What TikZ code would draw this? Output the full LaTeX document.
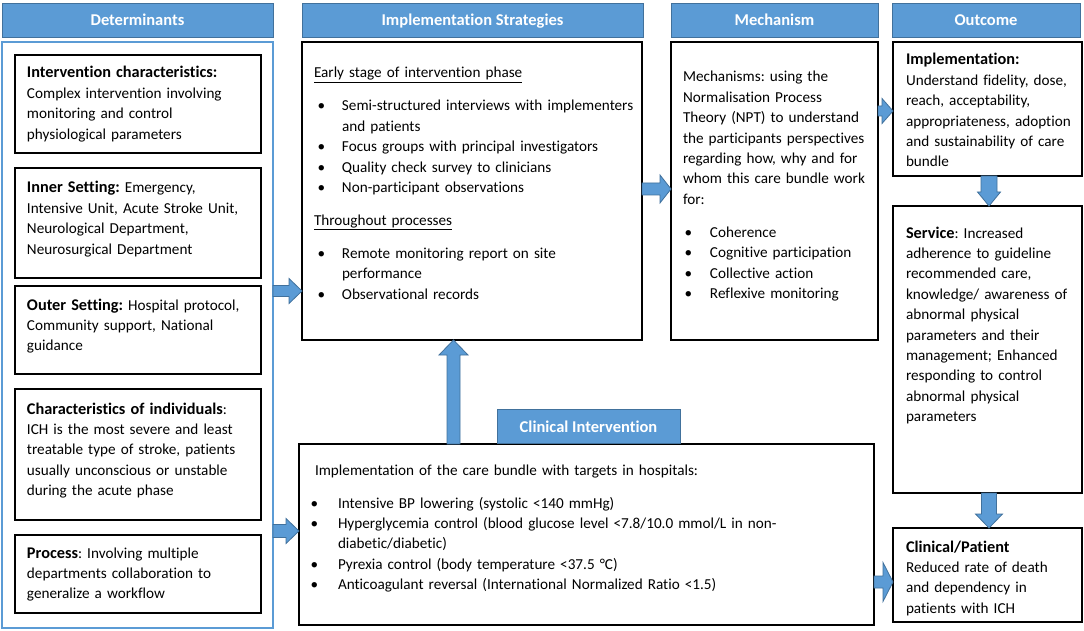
\documentclass[tikz,border=0pt]{standalone}
\usepackage{fontspec}
\setmainfont{Carlito}[Ligatures=NoCommon]
\usetikzlibrary{calc}
\definecolor{hblue}{HTML}{5B9BD5}
\definecolor{hborder}{HTML}{41719C}
\tikzset{
  hdr/.style={draw=hborder, fill=hblue, line width=0.8pt, text=white,
    font=\fontsize{16.5}{20}\selectfont\bfseries, inner sep=0pt, outer sep=0pt,
    text height=13.5pt, text depth=1.5pt},
  bbox/.style={draw=black, line width=1.5pt, inner sep=0pt, outer sep=0pt},
  lbbox/.style={draw=hblue, line width=1.5pt, inner sep=0pt, outer sep=0pt},
  txt/.style={anchor=base west, inner sep=0pt, outer sep=0pt, align=left,
    text width=#1, font=\fontsize{15.2}{20.4}\selectfont},
  txt/.default=420pt,
  barrow/.style={draw=hborder, fill=hblue, line width=0.8pt, line join=miter},
}
\newcommand\hb[1]{{\fontsize{16.3}{20.4}\selectfont\bfseries #1}}
\newcommand\bi[2]{\makebox[#1pt][l]{\hspace*{#2pt}\textbullet}}
% name, style, x1, y1, x2, y2, text
\newcommand\mkbox[7]{\node[#2, anchor=north west,
  minimum width={(#5-#3)*1pt}, minimum height={(#6-#4)*1pt}] (#1) at (#3,#4) {#7};}
% horizontal block arrow: start, end, shaft half, head half, head length
\newcommand\harr[5]{\draw[barrow] let \p1=#1, \p2=#2 in
  (\x1,{\y2+#3pt}) -- ({\x2-#5pt},{\y2+#3pt}) -- ({\x2-#5pt},{\y2+#4pt}) --
  (\x2,\y2) -- ({\x2-#5pt},{\y2-#4pt}) -- ({\x2-#5pt},{\y2-#3pt}) --
  (\x1,{\y2-#3pt}) -- cycle;}
% vertical block arrow: start, end, shaft half, head half, head length, dir (1 down, -1 up)
\newcommand\varr[6]{\draw[barrow] let \p1=#1, \p2=#2 in
  ({\x2-#3pt},\y1) -- ({\x2-#3pt},{\y2+(#6)*#5pt}) -- ({\x2-#4pt},{\y2+(#6)*#5pt}) --
  (\x2,\y2) -- ({\x2+#4pt},{\y2+(#6)*#5pt}) -- ({\x2+#3pt},{\y2+(#6)*#5pt}) --
  ({\x2+#3pt},\y1) -- cycle;}
\frenchspacing
\begin{document}
\frenchspacing
\begin{tikzpicture}[x=1pt, y=-1pt]
\useasboundingbox (0,0) rectangle (1084,631);
\fill[white] (0,0) rectangle (1084,631);

% headers
\mkbox{detH}{hdr}{2}{3}{273}{37}{Determinants}
\mkbox{impH}{hdr}{302}{3}{643}{37}{Implementation Strategies}
\mkbox{mecH}{hdr}{671}{3}{878}{37}{Mechanism}
\mkbox{outH}{hdr}{892}{3}{1080}{37}{Outcome}

% determinants
\mkbox{detB}{lbbox}{2}{42}{273}{628}{}
\mkbox{ic}{bbox}{15}{55}{261}{153}{}
\mkbox{is}{bbox}{15}{168}{261}{278}{}
\mkbox{os}{bbox}{15}{286}{261}{374}{}
\mkbox{ci}{bbox}{15}{389}{261}{520}{}
\mkbox{pr}{bbox}{15}{535}{261}{613}{}

\node[txt] (icT) at (27,78) {\hb{Intervention characteristics:}\\
Complex intervention involving\\ monitoring and control\\ physiological parameters};
\node[txt] (isT) at (27,193) {\hb{Inner Setting:} Emergency,\\
Intensive Unit, Acute Stroke Unit,\\ Neurological Department,\\ Neurosurgical Department};
\node[txt] (osT) at (27,310) {\hb{Outer Setting:} Hospital protocol,\\
Community support, National\\ guidance};
\node[txt] (ciT) at (27,414) {\hb{Characteristics of individuals}:\\
ICH is the most severe and least\\ treatable type of stroke, patients\\
usually unconscious or unstable\\ during the acute phase};
\node[txt] (prT) at (27,558) {\hb{Process}: Involving multiple\\
departments collaboration to\\ generalize a workflow};

% implementation strategies
\mkbox{impB}{bbox}{302}{42}{642}{340}{}
\node[txt] (impT) at (314,78) {\underline{Early stage of intervention phase}\\[12.6pt]
\bi{28}{3.5}Semi-structured interviews with implementers\\
\hspace*{28pt}and patients\\
\bi{28}{3.5}Focus groups with principal investigators\\
\bi{28}{3.5}Quality check survey to clinicians\\
\bi{28}{3.5}Non-participant observations\\[12.6pt]
\underline{Throughout processes}\\[12.6pt]
\bi{28}{3.5}Remote monitoring report on site\\
\hspace*{28pt}performance\\
\bi{28}{3.5}Observational records};

% mechanism
\mkbox{mecB}{bbox}{671}{42}{878}{340}{}
\node[txt] (mecT) at (683,82) {Mechanisms: using the\\ Normalisation Process\\
Theory (NPT) to understand\\ the participants perspectives\\
regarding how, why and for\\ whom this care bundle work\\ for:\\[12.6pt]
\bi{27}{1.5}Coherence\\
\bi{27}{1.5}Cognitive participation\\
\bi{27}{1.5}Collective action\\
\bi{27}{1.5}Reflexive monitoring};

% outcome
\mkbox{oimp}{bbox}{893}{42}{1082}{176}{}
\mkbox{serv}{bbox}{893}{206}{1082}{493}{}
\mkbox{clin}{bbox}{893}{528}{1082}{622}{}
\node[txt] (oimpT) at (906,65) {\hb{Implementation:}\\ Understand fidelity, dose,\\
reach, acceptability,\\ appropriateness, adoption\\ and sustainability of care\\ bundle};
\node[txt] (servT) at (906,238) {\hb{Service}: Increased\\ adherence to guideline\\
recommended care,\\ knowledge/ awareness of\\ abnormal physical\\ parameters and their\\
management; Enhanced\\ responding to control\\ abnormal physical\\ parameters};
\node[txt] (clinT) at (906,552) {\hb{Clinical/Patient}\\ Reduced rate of death\\
and dependency in\\ patients with ICH};

% clinical intervention
\mkbox{ciB}{bbox}{299}{444}{874}{625}{}
\mkbox{ciH}{hdr}{497}{409}{680}{443}{Clinical Intervention}
\node[txt=560pt] (ciBT) at (310.5,475) {\hspace*{4.5pt}Implementation of the care bundle with targets in hospitals:\\[12.6pt]
\bi{27.5}{0}Intensive BP lowering (systolic <140 mmHg)\\
\bi{27.5}{0}Hyperglycemia control (blood glucose level <7.8/10.0 mmol/L in non-\\
\hspace*{27.5pt}diabetic/diabetic)\\
\bi{27.5}{0}Pyrexia control (body temperature <37.5 °C)\\
\bi{27.5}{0}Anticoagulant reversal (International Normalized Ratio <1.5)};

% arrows
\coordinate (yA1) at (0,291);
\coordinate (yA2) at (0,531);
\coordinate (yA3) at (0,189);
\coordinate (yA4) at (0,111);
\coordinate (yA5) at (0,582);
\coordinate (xA6) at (989,0);
\coordinate (xA8) at (453.5,0);
\harr{(detB.east |- yA1)}{(impB.west |- yA1)}{5.5}{12.5}{13}
\harr{(detB.east |- yA2)}{(ciB.west |- yA2)}{6.5}{12.5}{13}
\harr{(impB.east |- yA3)}{(mecB.west |- yA3)}{6}{14}{11}
\harr{(mecB.east |- yA4)}{(oimp.west |- yA4)}{5}{12.5}{11}
\harr{(ciB.east |- yA5)}{(clin.west |- yA5)}{6}{19.5}{10}
\varr{(oimp.south -| xA6)}{(serv.north -| xA6)}{8}{11.5}{14}{1}
\varr{(serv.south -| xA6)}{(clin.north -| xA6)}{7.5}{13.5}{14}{1}
\varr{(ciB.north -| xA8)}{(impB.south -| xA8)}{6.5}{14.5}{15}{-1}
\end{tikzpicture}
\end{document}
